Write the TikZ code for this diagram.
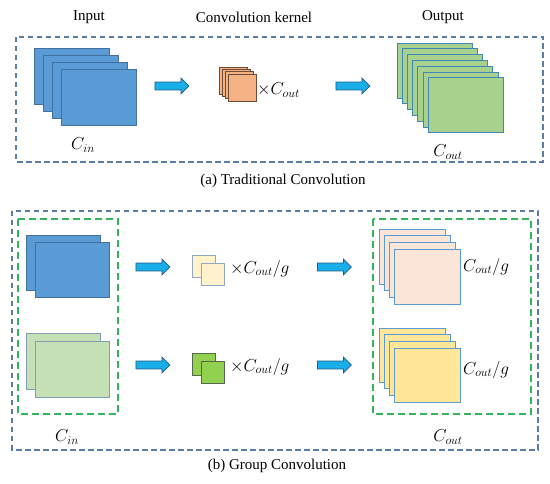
\documentclass[tikz,border=0pt]{standalone}
\usepackage{fontspec}
\setmainfont{Liberation Serif}
\usetikzlibrary{shapes.arrows}
\definecolor{blueF}{HTML}{5B9BD5}
\definecolor{blueD}{HTML}{41719C}
\definecolor{gOutF}{HTML}{A9D18E}
\definecolor{gOutD}{HTML}{3F87B5}
\definecolor{gInF}{HTML}{C5E0B4}
\definecolor{gInD}{HTML}{7F9DB3}
\definecolor{orF}{HTML}{F4B183}
\definecolor{orD}{HTML}{6D4C35}
\definecolor{crF}{HTML}{FFF2CC}
\definecolor{crD}{HTML}{8EA9C1}
\definecolor{kgF}{HTML}{92D050}
\definecolor{kgD}{HTML}{55684A}
\definecolor{peF}{HTML}{FBE5D6}
\definecolor{yeF}{HTML}{FFE699}
\definecolor{stD}{HTML}{5B9BD5}
\definecolor{arF}{HTML}{19AEE8}
\definecolor{arD}{HTML}{1F5C8A}
\definecolor{frameC}{HTML}{5A7DA6}
\definecolor{gdash}{HTML}{33B35A}
\tikzset{
  frame/.style={draw=frameC, dash pattern=on 5.5pt off 3.5pt, line width=1.3pt},
  gframe/.style={draw=gdash, dash pattern=on 7pt off 4pt, line width=1.4pt},
  fatarrow/.style={shape=single arrow, fill=arF, draw=arD, line width=0.7pt,
    single arrow head extend=4pt, inner sep=3.6pt, minimum height=34pt, anchor=center},
  lbl/.style={font=\fontsize{15}{17}\selectfont, inner sep=0pt},
  mlbl/.style={font=\fontsize{17}{19}\selectfont, inner sep=0pt}
}
% x0 y0 w h dx dy lastindex style
\newcommand{\mystack}[8]{%
  \foreach \i in {0,...,#7}{%
    \draw[#8] ({#1+\i*#5},{#2+\i*#6}) rectangle ++(#3,#4);
  }}
\begin{document}
\begin{tikzpicture}[x=1pt,y=-1pt]
\useasboundingbox (0,0) rectangle (550,484);
% (a) traditional
\draw[frame] (16,37) rectangle (543,162);
\node[lbl] (tin) at (89,17) {Input};
\node[lbl] (tker) at (254,17) {Convolution kernel};
\node[lbl] (tout) at (443,17) {Output};
\mystack{34}{48}{75}{56}{9}{7.3}{3}{fill=blueF, draw=blueD, line width=0.8pt}
\mystack{219}{67}{28}{27}{3}{2.4}{3}{fill=orF, draw=orD, line width=0.8pt}
\mystack{397}{43}{75}{55}{5.2}{5.8}{6}{fill=gOutF, draw=gOutD, line width=0.8pt}
\node[fatarrow] (a1) at (170,86) {};
\node[fatarrow] (a2) at (351,86) {};
\node[mlbl, anchor=west] (kx) at (257,90) {$\times C_{out}$};
\node[mlbl] (cin) at (83,145) {$C_{in}$};
\node[mlbl] (cout) at (448,152) {$C_{out}$};
\node[lbl] (capa) at (283,181) {(a) Traditional Convolution};
% (b) group
\draw[frame] (12,211) rectangle (538,450);
\draw[gframe] (18,219) rectangle (118,414);
\draw[gframe] (373,219) rectangle (531,414);
\mystack{26}{235}{74}{55}{9}{7}{1}{fill=blueF, draw=blueD, line width=0.8pt}
\mystack{26}{333}{74}{56}{9}{8}{1}{fill=gInF, draw=gInD, line width=0.8pt}
\mystack{192}{255}{23}{22}{9}{8}{1}{fill=crF, draw=crD, line width=0.8pt}
\mystack{192}{353}{23}{22}{9}{8}{1}{fill=kgF, draw=kgD, line width=0.8pt}
\mystack{379}{229}{66}{55}{5}{6.7}{3}{fill=peF, draw=stD, line width=0.8pt}
\mystack{379}{328}{66}{54}{5}{6.7}{3}{fill=yeF, draw=stD, line width=0.8pt}
\node[fatarrow] (b1) at (151,267) {};
\node[fatarrow] (b2) at (151,365) {};
\node[fatarrow] (b3) at (332.5,267) {};
\node[fatarrow] (b4) at (332.5,365) {};
\node[mlbl, anchor=west] (gk1) at (230,269) {$\times C_{out}/g$};
\node[mlbl, anchor=west] (gk2) at (230,367) {$\times C_{out}/g$};
\node[mlbl, anchor=west] (go1) at (463,267) {$C_{out}/g$};
\node[mlbl, anchor=west] (go2) at (463,370) {$C_{out}/g$};
\node[mlbl] (gcin) at (67,437) {$C_{in}$};
\node[mlbl] (gcout) at (448,437) {$C_{out}$};
\node[lbl] (capb) at (277,466) {(b) Group Convolution};
\end{tikzpicture}
\end{document}
